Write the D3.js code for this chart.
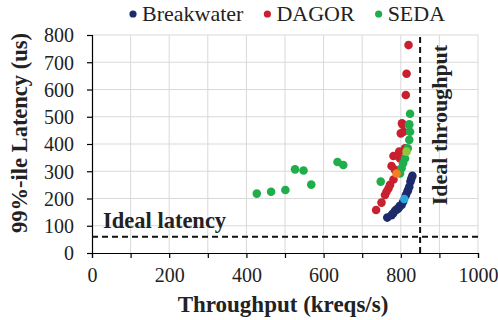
<!DOCTYPE html>
<html>
<head>
<meta charset="utf-8">
<script src="https://cdn.jsdelivr.net/npm/d3@7"></script>
<style>
  html, body { margin: 0; padding: 0; background: #fff; }
</style>
</head>
<body>
<svg id="chart" width="498" height="320"></svg>
<script>
// series: [throughput (kreqs/s), 99%-ile latency (us)]
const breakwater = [
  [765, 130], [776, 139], [780, 145], [785, 155], [790, 160], [794, 164], [797, 172],
  [802, 176], [806, 188], [813, 212], [817, 225], [819, 232], [822, 243], [825, 262],
  [827, 272], [830, 283]
];
const dagor = [
  [736, 158], [750, 185], [759, 213], [763, 225], [768, 237], [772, 250], [781, 270],
  [785, 305], [776, 319], [781, 356], [798, 347], [796, 372], [811, 384], [800, 439],
  [807, 445], [804, 473], [803, 476], [813, 580], [815, 658], [820, 763]
];
const seda = [
  [427, 218], [464, 225], [501, 231], [526, 307], [548, 303], [568, 251], [636, 334],
  [651, 323], [748, 262], [798, 292], [802, 311], [806, 329], [811, 347], [818, 384],
  [822, 415], [824, 445], [821, 470], [822, 472], [824, 511]
];
// the marked point of each series
const breakwaterMark = [809, 198];
const dagorMark = [789, 292];
const sedaMark = [815, 372];

const seriesNames = ["Breakwater", "DAGOR", "SEDA"];
const xTicks = [0, 200, 400, 600, 800, 1000];
const yTicks = [0, 100, 200, 300, 400, 500, 600, 700, 800];
const idealThroughput = 850;
const idealLatency = 60;

const colors = { Breakwater: "#1d2b6b", DAGOR: "#c8202e", SEDA: "#1fae4b" };
const markColors = { Breakwater: "#2ba6df", DAGOR: "#f47f22", SEDA: "#8dc63f" };
const serif = "Liberation Serif";

const svg = d3.select("#chart");
const margin = { top: 35, right: 20, bottom: 67, left: 92 };
const W = 498, H = 320;

const x = d3.scaleLinear().domain([0, 1000]).range([margin.left, W - margin.right]);
const y = d3.scaleLinear().domain([0, 800]).range([H - margin.bottom, margin.top]);

// grid
const grid = svg.append("g").attr("stroke", "#d9d9d9").attr("stroke-width", 1);
grid.selectAll(".gx").data(d3.range(100, 1001, 100)).enter().append("line")
  .attr("x1", d => x(d)).attr("x2", d => x(d))
  .attr("y1", y(0)).attr("y2", y(800));
grid.selectAll(".gy").data(d3.range(100, 801, 100)).enter().append("line")
  .attr("x1", x(0)).attr("x2", x(1000))
  .attr("y1", d => y(d)).attr("y2", d => y(d));

// axes
const xAxis = svg.append("g")
  .attr("transform", `translate(0,${y(0)})`)
  .call(d3.axisBottom(x).tickValues(d3.range(0, 1001, 100)).tickSize(5)
    .tickFormat(d => xTicks.includes(d) ? d : ""));
const yAxis = svg.append("g")
  .attr("transform", `translate(${x(0)},0)`)
  .call(d3.axisLeft(y).tickValues(yTicks).tickSize(5));
[xAxis, yAxis].forEach(a => {
  a.attr("font-family", null).attr("font-size", null);
  a.select(".domain").attr("stroke", "#000").attr("stroke-width", 1.2);
  a.selectAll(".tick line").attr("stroke", "#000").attr("stroke-width", 1.2);
  a.selectAll("text").attr("fill", "#222")
    .attr("font-family", serif).attr("font-size", 20);
});
xAxis.selectAll("text").attr("dy", "0").attr("y", 29);
yAxis.selectAll("text").attr("x", -18).attr("dy", "0.34em");

// ideal lines
svg.append("line")
  .attr("x1", x(0)).attr("x2", x(1000))
  .attr("y1", y(idealLatency)).attr("y2", y(idealLatency))
  .attr("stroke", "#111").attr("stroke-width", 2).attr("stroke-dasharray", "6,4");
svg.append("line")
  .attr("x1", x(idealThroughput)).attr("x2", x(idealThroughput))
  .attr("y1", y(0)).attr("y2", y(800))
  .attr("stroke", "#111").attr("stroke-width", 2).attr("stroke-dasharray", "6,4");

svg.append("text")
  .attr("x", 103).attr("y", 228)
  .attr("font-family", serif).attr("font-size", 22.5).attr("font-weight", "bold").attr("fill", "#222")
  .text("Ideal latency");
svg.append("text")
  .attr("transform", `translate(447,125) rotate(-90)`)
  .attr("text-anchor", "middle")
  .attr("font-family", serif).attr("font-size", 22).attr("font-weight", "bold").attr("fill", "#222")
  .text("Ideal throughput");

// points
const all = [
  { name: "Breakwater", data: breakwater, mark: breakwaterMark },
  { name: "DAGOR", data: dagor, mark: dagorMark },
  { name: "SEDA", data: seda, mark: sedaMark }
];
all.forEach(s => {
  svg.append("g").selectAll("circle").data(s.data).enter().append("circle")
    .attr("cx", d => x(d[0])).attr("cy", d => y(d[1])).attr("r", 4.3)
    .attr("fill", colors[s.name]);
});
all.forEach(s => {
  svg.append("circle")
    .attr("cx", x(s.mark[0])).attr("cy", y(s.mark[1])).attr("r", 4.3)
    .attr("fill", markColors[s.name]);
});

// axis titles
svg.append("text")
  .attr("x", 283).attr("y", 312).attr("text-anchor", "middle")
  .attr("font-family", serif).attr("font-size", 23).attr("font-weight", "bold").attr("fill", "#222")
  .text("Throughput (kreqs/s)");
svg.append("text")
  .attr("transform", `translate(27,133) rotate(-90)`)
  .attr("text-anchor", "middle")
  .attr("font-family", serif).attr("font-size", 22.5).attr("font-weight", "bold").attr("fill", "#222")
  .text("99%-ile Latency (us)");

// legend
let lx = 133;
seriesNames.forEach(n => {
  svg.append("circle").attr("cx", lx).attr("cy", 14).attr("r", 3.6).attr("fill", colors[n]);
  const t = svg.append("text").attr("x", lx + 9).attr("y", 21)
    .attr("font-family", serif).attr("font-size", 22).attr("fill", "#222").text(n);
  lx += 9 + t.node().getComputedTextLength() + 24;
});
</script>
</body>
</html>
